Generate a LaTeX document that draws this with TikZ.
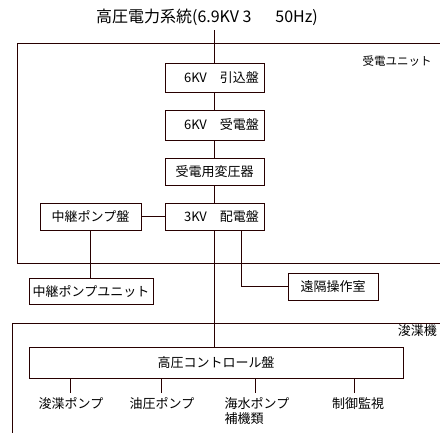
\documentclass[tikz,border=0pt]{standalone}
\usepackage{fontspec}
\setmainfont{Noto Sans CJK JP}
\definecolor{ink}{RGB}{40,0,0}
\begin{document}
\begin{tikzpicture}[x=1pt,y=-1pt,
  every node/.style={font=\fontsize{13pt}{15.5pt}\selectfont, inner sep=0pt, text=black},
  box/.style={draw=ink, line width=0.8pt, minimum width=#1, rectangle},
  box/.default=99pt,
  ln/.style={line width=0.8pt, ink},
  lbl/.style={anchor=north, align=left}]
\useasboundingbox (0,0) rectangle (440,432);
% frames
\draw[ln] (441,43) -- (17,43) -- (17,263) -- (441,263);
\draw[ln] (441,323) -- (12,323) -- (12,433);
\node (unit1) at (397,61) {\fontsize{11.5pt}{14pt}\selectfont 受電ユニット};
\node[anchor=east] (unit2) at (437,331) {浚渫機};
% title
\node (title) at (207,17) {\fontsize{16pt}{19pt}\selectfont 高圧電力系統(6.9KV 3\hspace{24pt}50Hz)};
% boxes
\node[box, minimum height=29pt] (b1) at (214.5,77.5) {\hspace*{14pt}6KV　引込盤};
\node[box, minimum height=30pt] (b2) at (214.5,125) {\hspace*{14pt}6KV　受電盤};
\node[box, minimum height=27pt] (b3) at (214.5,171.5) {受電用変圧器};
\node[box, minimum height=27pt] (b4) at (214.5,216.5) {\hspace*{14pt}3KV　配電盤};
\node[box=101pt, minimum height=27pt] (rp) at (90.5,216.5) {中継ポンプ盤};
\node[box=124pt, minimum height=26pt] (ru) at (91,291) {中継ポンプユニット};
\node[box=90pt, minimum height=27pt] (rm) at (333,286.5) {遠隔操作室};
\node[box=374pt, minimum height=31pt] (hv) at (216,362.5) {高圧コントロール盤};
% bottom labels
\node[lbl] (l1) at (71,397) {浚渫ポンプ};
\node[lbl] (l2) at (162,397) {油圧ポンプ};
\node[lbl] (l3) at (257,397) {海水ポンプ\\補機類};
\node[lbl] (l4) at (358,397) {制御監視};
% connectors
\coordinate (tt) at (b1.north |- 0,30);
\draw[ln] (tt) -- (b1.north);
\draw[ln] (b1.south) -- (b2.north);
\draw[ln] (b2.south) -- (b3.north);
\draw[ln] (b3.south) -- (b4.north);
\draw[ln] (rp.east) -- (b4.west);
\draw[ln] (rp.south) -- (rp.south |- ru.north);
\draw[ln] ([xshift=27pt]b4.south) |- (rm.west);
\draw[ln] (b4.south) -- (b4.south |- hv.north);
\coordinate (d1) at (70,393);
\coordinate (d2) at (161,393);
\coordinate (d3) at (255,393);
\coordinate (d4) at (354,393);
\draw[ln] (d1 |- hv.south) -- (d1);
\draw[ln] (d2 |- hv.south) -- (d2);
\draw[ln] (d3 |- hv.south) -- (d3);
\draw[ln] (d4 |- hv.south) -- (d4);
\end{tikzpicture}
\end{document}
